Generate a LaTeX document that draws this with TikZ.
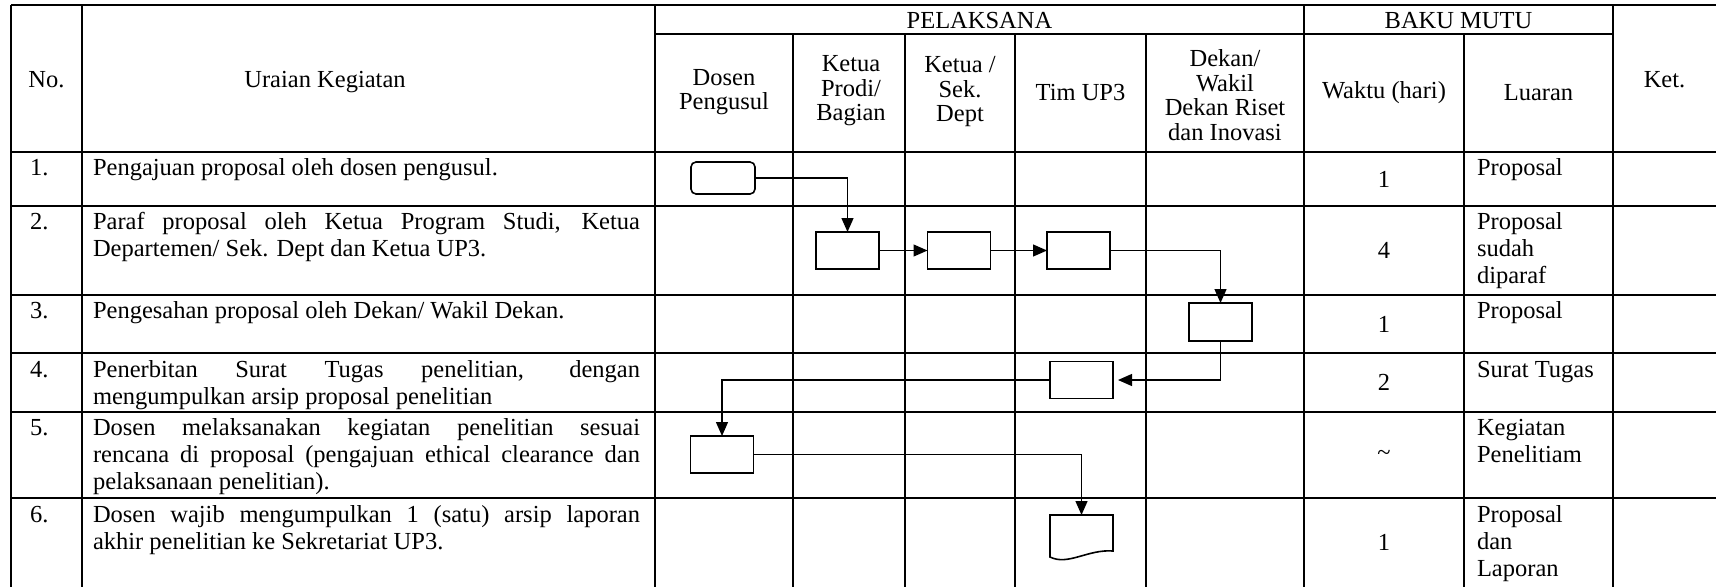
\documentclass[tikz,border=0pt]{standalone}
\usepackage{fontspec}
\setmainfont{Liberation Serif}
\usetikzlibrary{arrows.meta,calc}
\newlength{\uw}\setlength{\uw}{547pt}
\newcommand{\jl}[1]{\makebox[\uw][s]{#1}}
\newcommand{\fst}{\rule{0pt}{20pt}}
\begin{document}
\begin{tikzpicture}[x=1pt,y=-1pt,
  gthin/.style={line width=1.1pt},
  gthick/.style={line width=2.6pt},
  gtop/.style={line width=1.8pt},
  box/.style={draw, line width=1.6pt, minimum width=63pt, minimum height=37pt, inner sep=0pt, outer sep=0pt},
  rbox/.style={box, rounded corners=5pt, minimum width=64pt, minimum height=32pt},
  docnode/.style={draw=none, minimum width=63pt, minimum height=45pt, inner sep=0pt, outer sep=0pt},
  docline/.style={line width=1.6pt},
  conn/.style={line width=1.3pt, -{Triangle[length=14pt,width=12pt]}},
  txt/.style={inner sep=0pt, outer sep=0pt, font=\fontsize{24.5}{27}\selectfont},
  hdr/.style={inner sep=0pt, outer sep=0pt, font=\fontsize{24.5}{24.5}\selectfont, align=center},
  lft/.style={txt, align=left, anchor=north west},
  ctr/.style={txt, anchor=center}
]
\useasboundingbox (0,0) rectangle (1716,587);

% ---- grid: horizontal lines
\draw[gtop] (11,5) -- (1716,5);
\draw[gthin] (655,34) -- (1613,34);
\draw[gthick] (11,152) -- (1716,152);
\draw[gthin] (11,206) -- (1716,206);
\draw[gthick] (11,295) -- (1716,295);
\draw[gthick] (11,353) -- (1716,353);
\draw[gthick] (11,412) -- (1716,412);
\draw[gthick] (11,498) -- (1716,498);
% ---- grid: vertical lines
\draw[gthick] (11,5) -- (11,587);
\draw[gthick] (82,5) -- (82,587);
\draw[gthin] (655,5) -- (655,587);
\draw[gthick] (793,34) -- (793,587);
\draw[gthick] (905,34) -- (905,587);
\draw[gthin] (1015,34) -- (1015,587);
\draw[gthin] (1146,34) -- (1146,587);
\draw[gthick] (1304,5) -- (1304,587);
\draw[gthick] (1464,34) -- (1464,587);
\draw[gthick] (1613,5) -- (1613,587);

% ---- header
\node[txt, anchor=base] (hno) at (46.5,87) {No.};
\node[txt, anchor=base] (hur) at (325,87) {Uraian Kegiatan};
\node[txt, anchor=base] (hpel) at (979.5,28) {PELAKSANA};
\node[txt, anchor=base] (hbaku) at (1458.5,28) {BAKU MUTU};
\node[txt, anchor=base] (hket) at (1664.5,87) {Ket.};
\node[hdr] (hdos) at (724,92) {Dosen\\Pengusul};
\node[hdr] (hkp) at (851,91) {Ketua\\Prodi/\\Bagian};
\node[hdr] (hks) at (960,92) {Ketua /\\Sek.\\Dept};
\node[hdr] (htim) at (1080.5,93) {Tim UP3};
\node[hdr] (hdek) at (1225,95) {Dekan/\\Wakil\\Dekan Riset\\dan Inovasi};
\node[hdr] (hwak) at (1384,93) {Waktu (hari)};
\node[hdr] (hlua) at (1538.5,93) {Luaran};

% ---- numbers (first baseline = y + 20)
\node[lft] (n1) at (30,155) {\fst 1.};
\node[lft] (n2) at (30,209) {\fst 2.};
\node[lft] (n3) at (30,298) {\fst 3.};
\node[lft] (n4) at (30,357) {\fst 4.};
\node[lft] (n5) at (30,415) {\fst 5.};
\node[lft] (n6) at (30,502) {\fst 6.};

% ---- descriptions
\node[lft] (u1) at (93,155) {\fst Pengajuan proposal oleh dosen pengusul.};
\node[lft] (u2) at (93,209) {\fst\jl{Paraf proposal oleh Ketua Program Studi, Ketua}\\Departemen/ Sek. Dept dan Ketua UP3.};
\node[lft] (u3) at (93,298) {\fst Pengesahan proposal oleh Dekan/ Wakil Dekan.};
\node[lft] (u4) at (93,357) {\fst\jl{Penerbitan Surat Tugas penelitian, dengan}\\mengumpulkan arsip proposal penelitian};
\node[lft] (u5) at (93,415) {\fst\jl{Dosen melaksanakan kegiatan penelitian sesuai}\\\jl{rencana di proposal (pengajuan ethical clearance dan}\\pelaksanaan penelitian).};
\node[lft] (u6) at (93,502) {\fst\jl{Dosen wajib mengumpulkan 1 (satu) arsip laporan}\\akhir penelitian ke Sekretariat UP3.};

% ---- waktu
\node[ctr] (w1) at (1384,179) {1};
\node[ctr] (w2) at (1384,250.5) {4};
\node[ctr] (w3) at (1384,324) {1};
\node[ctr] (w4) at (1384,382.5) {2};
\node[ctr] (w5) at (1384,455) {\textasciitilde};
\node[ctr] (w6) at (1384,542.5) {1};

% ---- luaran
\node[lft] (l1) at (1477,155) {\fst Proposal};
\node[lft] (l2) at (1477,209) {\fst Proposal\\sudah\\diparaf};
\node[lft] (l3) at (1477,298) {\fst Proposal};
\node[lft] (l4) at (1477,357) {\fst Surat Tugas};
\node[lft] (l5) at (1477,415) {\fst Kegiatan\\Penelitiam};
\node[lft] (l6) at (1477,502) {\fst Proposal\\dan\\Laporan};

% ---- flow shapes
\node[rbox] (s1) at (723,178) {};
\node[box] (s2a) at (847.5,250.5) {};
\node[box] (s2b) at (959,250.5) {};
\node[box] (s2c) at (1078.5,250.5) {};
\node[box, minimum height=38pt] (s3) at (1220.5,322) {};
\node[box] (s4) at (1081.5,380) {};
\node[box] (s5) at (722,454.5) {};
\node[docnode] (s6) at (1081.5,537.5) {};
\draw[docline] (s6.north west) -- (s6.north east) -- ([yshift=9pt]s6.south east)
  .. controls +(-25,-2) and +(18,9) .. ([yshift=3pt]s6.south west) -- cycle;

% ---- connectors
\draw[conn] (s1.east) -| (s2a.north);
\draw[conn] (s2a.east) -- (s2b.west);
\draw[conn] (s2b.east) -- (s2c.west);
\draw[conn] (s2c.east) -| (s3.north);
\draw[conn, shorten >=5pt] (s3.south) |- (s4.east);
\draw[conn] (s4.west) -| (s5.north);
\draw[conn] (s5.east) -| (s6.north);
\end{tikzpicture}
\end{document}
